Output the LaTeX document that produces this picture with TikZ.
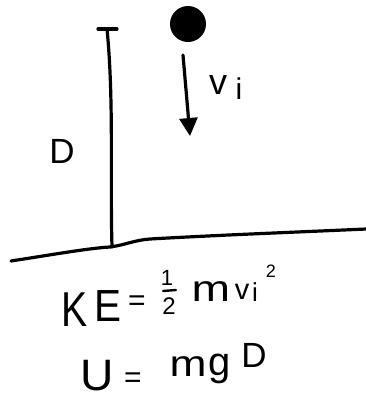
\documentclass[tikz,border=0pt]{standalone}
\usepackage{fontspec}
\setmainfont{Liberation Sans}
\usetikzlibrary{arrows.meta}
\begin{document}
\begin{tikzpicture}[x=1pt,y=-1pt,
  ink/.style={line width=3.2pt,line cap=round,line join=round},
  glyph/.style={inner sep=0pt,outer sep=0pt},
  fs/.style={font=\fontsize{#1}{#1}\selectfont}]
\useasboundingbox (0,0) rectangle (366,402);
% ball
\node[circle,fill=black,minimum size=36pt,inner sep=0pt] (ball) at (188,24) {};
% velocity arrow
\coordinate (atop) at (183,55);
\coordinate (abot) at (190,136);
\draw[ink,-{Triangle[width=18pt,length=18pt]}] (atop) -- (abot);
\node[glyph,fs=36] (v1) at (218,85) {v};
\node[glyph,fs=30] (i1) at (239,89) {i};
% height bar
\coordinate (tl) at (98,29);
\coordinate (tr) at (117,29);
\coordinate (btop) at (107,29);
\coordinate (bbot) at (112,247);
\draw[ink] (tl) -- (tr);
\draw[ink] (btop) .. controls (114,100) and (110,180) .. (bbot);
\node[glyph,fs=35] (D) at (62,151) {D};
% ground
\coordinate (g0) at (11,261);
\coordinate (g1) at (110,247);
\coordinate (g2) at (150,239);
\coordinate (g3) at (366,229);
\draw[ink] (g0) .. controls (50,255) and (90,248) .. (g1)
  .. controls (125,245) and (135,240) .. (g2)
  .. controls (220,235) and (300,232) .. (g3);
% KE = 1/2 m v_i^2
\node[glyph,fs=49,xscale=0.8] (K) at (75,310) {K};
\node[glyph,fs=45,xscale=0.9] (E) at (108,306) {E};
\node[glyph,fs=30] (eq1) at (137,303) {=};
\node[glyph,fs=22] (one) at (167,278) {1};
\coordinate (fb1) at (163,291);
\coordinate (fb2) at (176,290);
\draw[line width=2.4pt,line cap=round] (fb1) -- (fb2);
\node[glyph,fs=24] (two) at (169,306) {2};
\node[glyph,fs=37,xscale=1.25] (m1) at (211,292) {m};
\node[glyph,fs=29] (v2) at (242,292) {v};
\node[glyph,fs=26] (i2) at (255,292) {i};
\node[glyph,fs=18] (sq) at (271,271) {2};
% U = mgD
\node[glyph,fs=44,xscale=1.05] (U) at (97,376) {U};
\node[glyph,fs=30] (eq2) at (133,380) {=};
\node[glyph,fs=37,xscale=1.2] (m2) at (188,367) {m};
\node[glyph,fs=40] (g) at (220,369) {g};
\node[glyph,fs=35] (D2) at (254,355) {D};
\end{tikzpicture}
\end{document}
